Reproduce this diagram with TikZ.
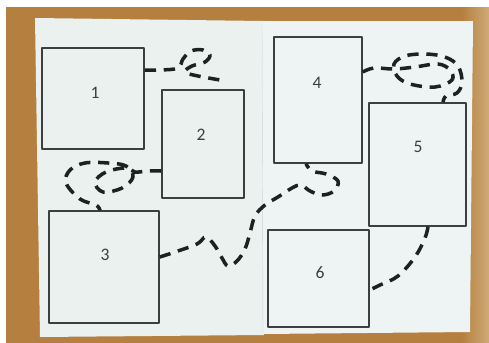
\documentclass[tikz,border=0pt]{standalone}
\usepackage{fontspec}
\setmainfont{Carlito}
\usetikzlibrary{fit, calc}
\definecolor{woodbrown}{HTML}{B5803F}
\definecolor{woodlight}{HTML}{CFAA78}
\definecolor{paperwhite}{HTML}{EAF1EF}
\definecolor{paperlight}{HTML}{EEF4F3}
\definecolor{boxgray}{HTML}{3C3F40}
\definecolor{inkblack}{HTML}{1E2021}

\begin{document}
\begin{tikzpicture}[x=0.025cm, y=-0.025cm, line join=round,
    caja/.style={draw=boxgray, line width=1.1pt, inner sep=0pt},
    cifra/.style={font=\fontsize{12.5}{14}\selectfont, text=boxgray, inner sep=0pt},
    camino/.style={draw=inkblack, line width=2.5pt, dash pattern=on 8pt off 5.5pt}]
  \useasboundingbox (0,0) rectangle (489,343);

  % Mesa de madera
  \fill[white] (0,0) rectangle (489,343);
  \fill[woodbrown] (6,7) rectangle (489,343);
  \shade[left color=woodbrown, right color=woodlight] (462,7) rectangle (489,343);

  % Hojas
  \fill[paperwhite] (35,18) -- (263,21) -- (264,335) -- (40,337) -- cycle;
  \fill[paperlight] (261,21) -- (473,21) -- (470,332) -- (263,334) -- cycle;
  \draw[paperwhite!88!black, line width=0.3pt] (262,21) -- (263,334);

  % Cajas
  \node[caja, fit={(42,48) (144,149)}] (c1) {};
  \node[caja, fit={(162,90) (244,198)}] (c2) {};
  \node[caja, fit={(49,211) (159,323)}] (c3) {};
  \node[caja, fit={(274,37) (362,163)}] (c4) {};
  \node[caja, fit={(369,103) (466,226)}] (c5) {};
  \node[caja, fit={(268,230) (369,327)}] (c6) {};

  % Numeros
  \node[cifra] (n1) at (95,93) {1};
  \node[cifra] (n2) at (201,135) {2};
  \node[cifra] (n3) at (105,255) {3};
  \node[cifra] (n4) at (317,83) {4};
  \node[cifra] (n5) at (418,147) {5};
  \node[cifra] (n6) at (320,273) {6};

  % Caminos discontinuos
  \coordinate (f1) at (226,81);
  \draw[camino] plot[smooth, tension=0.6] coordinates {(c1.east |- 0,70) (160,70) (178,68) (183,59) (191,51) (203,50) (210,55) (205,62) (192,66) (185,72) (198,76) (f1)};
  \draw[camino] plot[smooth, tension=0.6] coordinates {(c2.west |- 0,171) (148,171) (135,172) (125,168) (106,172) (95,182) (103,192) (122,188) (133,177) (126,166) (108,163) (85,163) (70,170) (66,183) (80,199) (96,205) (c3.north -| 100,0)};
  \draw[camino] plot[smooth, tension=0.6] coordinates {(c3.east |- 0,257) (175,252) (197,244) (206,237) (215,246) (222,258) (228,266) (237,261) (245,249) (250,233) (255,216) (265,205) (278,197) (292,188) (301,185) (310,191) (322,195) (334,191) (338,181) (326,174) (312,171) (c4.south -| 306,0)};
  \draw[camino] plot[smooth, tension=0.6] coordinates {(c4.east |- 0,72) (374,68) (394,69) (415,67) (438,64) (450,70) (452,80) (435,87) (410,84) (397,76) (394,64) (405,56) (425,54) (445,57) (458,66) (462,82) (457,93) (446,96) (c5.north -| 443,0)};
  \draw[camino] plot[smooth, tension=0.6] coordinates {(c5.south -| 428,0) (425,238) (415,257) (398,276) (380,285) (c6.east |- 0,290)};
\end{tikzpicture}
\end{document}
